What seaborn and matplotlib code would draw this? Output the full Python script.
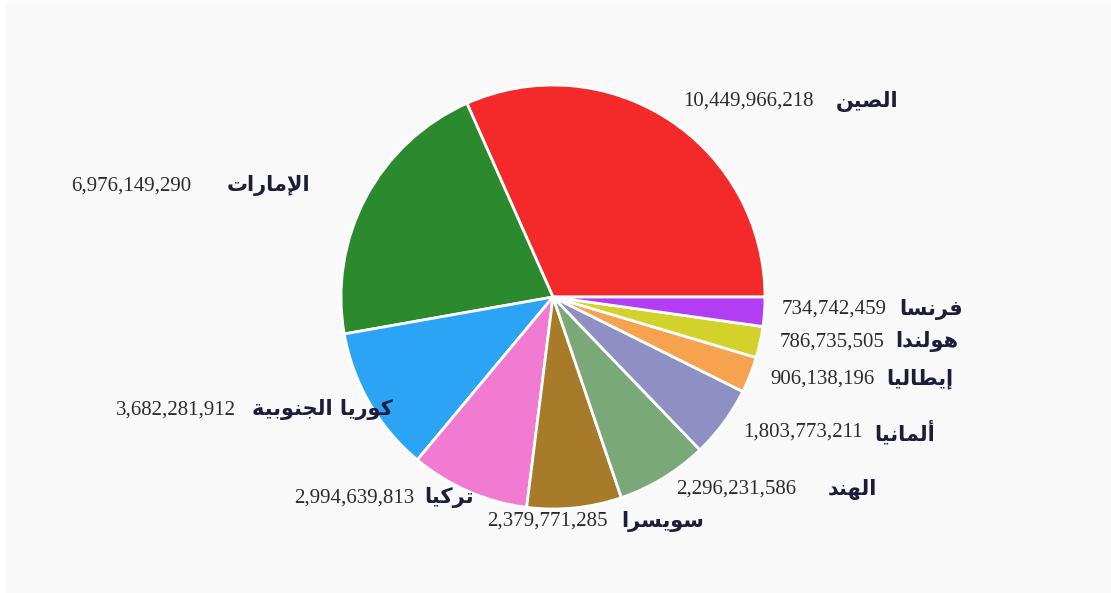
import matplotlib
matplotlib.use("Agg")
import matplotlib.pyplot as plt
import seaborn as sns
from matplotlib.patches import Rectangle

# ---------------- data ----------------
countries = ["الصين", "الإمارات", "كوريا الجنوبية", "تركيا", "سويسرا",
             "الهند", "ألمانيا", "إيطاليا", "هولندا", "فرنسا"]
values = [10449966218, 6976149290, 3682281912, 2994639813, 2379771285,
          2296231586, 1803773211, 906138196, 786735505, 734742459]
colors = ["#f42a2a", "#2b8a2e", "#2ba4f5", "#f27bd2", "#a77b29",
          "#7aa879", "#8e8fc2", "#f7a24e", "#d2d22b", "#b23df5"]

# ---------------- minimal Arabic shaping (logical -> visual presentation forms) ----------------
FORMS = {
    "\u0627": ("\uFE8D", "\uFE8E", None, None),
    "\u0623": ("\uFE83", "\uFE84", None, None),
    "\u0625": ("\uFE87", "\uFE88", None, None),
    "\u0628": ("\uFE8F", "\uFE90", "\uFE91", "\uFE92"),
    "\u0629": ("\uFE93", "\uFE94", None, None),
    "\u062A": ("\uFE95", "\uFE96", "\uFE97", "\uFE98"),
    "\u062C": ("\uFE9D", "\uFE9E", "\uFE9F", "\uFEA0"),
    "\u062F": ("\uFEA9", "\uFEAA", None, None),
    "\u0631": ("\uFEAD", "\uFEAE", None, None),
    "\u0633": ("\uFEB1", "\uFEB2", "\uFEB3", "\uFEB4"),
    "\u0635": ("\uFEB9", "\uFEBA", "\uFEBB", "\uFEBC"),
    "\u0637": ("\uFEC1", "\uFEC2", "\uFEC3", "\uFEC4"),
    "\u0641": ("\uFED1", "\uFED2", "\uFED3", "\uFED4"),
    "\u0643": ("\uFED9", "\uFEDA", "\uFEDB", "\uFEDC"),
    "\u0644": ("\uFEDD", "\uFEDE", "\uFEDF", "\uFEE0"),
    "\u0645": ("\uFEE1", "\uFEE2", "\uFEE3", "\uFEE4"),
    "\u0646": ("\uFEE5", "\uFEE6", "\uFEE7", "\uFEE8"),
    "\u0647": ("\uFEE9", "\uFEEA", "\uFEEB", "\uFEEC"),
    "\u0648": ("\uFEED", "\uFEEE", None, None),
    "\u064A": ("\uFEF1", "\uFEF2", "\uFEF3", "\uFEF4"),
}
LAM_ALEF = {"\u0627": ("\uFEFB", "\uFEFC"),
            "\u0623": ("\uFEF7", "\uFEF8"),
            "\u0625": ("\uFEF9", "\uFEFA")}


def shape_arabic(text):
    units = []
    i = 0
    while i < len(text):
        c = text[i]
        if c == "\u0644" and i + 1 < len(text) and text[i + 1] in LAM_ALEF:
            iso, fin = LAM_ALEF[text[i + 1]]
            units.append((iso, fin, None, None))
            i += 2
        elif c in FORMS:
            units.append(FORMS[c])
            i += 1
        else:
            units.append((c, None, None, None))
            i += 1
    out = []
    for k, u in enumerate(units):
        prev = units[k - 1] if k > 0 else None
        nxt = units[k + 1] if k + 1 < len(units) else None
        jp = prev is not None and prev[2] is not None and u[1] is not None
        jn = u[2] is not None and nxt is not None and nxt[1] is not None
        if jp and jn:
            out.append(u[3])
        elif jp:
            out.append(u[1])
        elif jn:
            out.append(u[2])
        else:
            out.append(u[0])
    return "".join(reversed(out))


# ---------------- figure ----------------
sns.set_theme(style="white")
W, H, DPI = 1111, 593, 100
fig = plt.figure(figsize=(W / DPI, H / DPI), dpi=DPI)
fig.patch.set_facecolor("white")
fig.add_artist(Rectangle((6 / W, 0), 1 - 6 / W, 1 - 2 / H, transform=fig.transFigure,
                         facecolor="#f9f9f9", edgecolor="none", zorder=-10))

CX, CY, R = 553, 297, 212  # pie centre / radius in pixels
ax = fig.add_axes([0, 0, 1, 1])
ax.set_facecolor("none")
ax.pie(values, colors=colors, startangle=0, counterclock=True, radius=1.0,
       wedgeprops=dict(edgecolor="white", linewidth=2.0))
ax.set_aspect("equal", adjustable="datalim")
ax.set_xlim(-CX / R, (W - CX) / R)
ax.set_ylim((CY - H) / R, CY / R)
ax.axis("off")

# label layout (pixel anchor, which side is anchored, gap between number and name)
label_layout = [
    (683, 101, "left", 22),
    (310, 186, "right", 35),
    (393, 410, "right", 16),
    (474, 498, "right", 10),
    (487, 521, "left", 14),
    (676, 489, "left", 32),
    (743, 432, "left", 12),
    (770, 379, "left", 12),
    (780, 342, "left", 10),
    (782, 309, "left", 12),
]

num_kw = dict(fontfamily="Liberation Serif", fontsize=15, color="#2b2b2b", va="center")
name_kw = dict(fontfamily="DejaVu Sans", fontweight="bold", fontsize=15, color="#1d1d3b",
               va="center")

for name, val, (px, py, side, gap) in zip(countries, values, label_layout):
    x, y = (px - CX) / R, (CY - py) / R
    num_txt = f"{val:,}"
    if side == "left":
        t = ax.text(x, y, num_txt, ha="left", **num_kw)
        ax.annotate(shape_arabic(name), xy=(1, 0.5), xycoords=t,
                    xytext=(gap * 72 / DPI, 0), textcoords="offset points",
                    ha="left", **name_kw)
    else:
        t = ax.text(x, y, shape_arabic(name), ha="right", **name_kw)
        ax.annotate(num_txt, xy=(0, 0.5), xycoords=t,
                    xytext=(-gap * 72 / DPI, 0), textcoords="offset points",
                    ha="right", **num_kw)

fig.savefig("out.png", dpi=DPI, facecolor=fig.get_facecolor())
